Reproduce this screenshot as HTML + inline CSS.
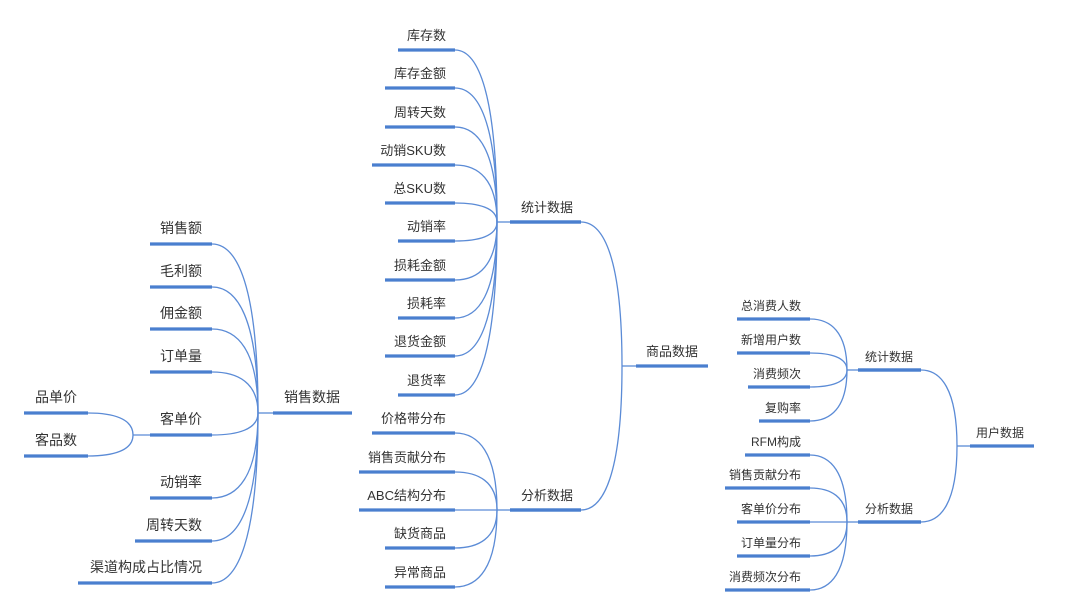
<!DOCTYPE html>
<html><head><meta charset="utf-8"><style>
html,body{margin:0;padding:0;background:#fff;}
#c{position:relative;width:1080px;height:611px;overflow:hidden;font-family:"Liberation Sans","Noto Sans CJK SC",sans-serif;color:#333;}
svg{position:absolute;left:0;top:0;}
.t{position:absolute;white-space:nowrap;text-align:right;line-height:1;}
</style></head><body><div id="c">
<svg id="s" width="1080" height="611"></svg>
<!-- left group -->
<div class="t" style="right:878px;top:221px;font-size:14px">销售额</div>
<div class="t" style="right:878px;top:264px;font-size:14px">毛利额</div>
<div class="t" style="right:878px;top:306px;font-size:14px">佣金额</div>
<div class="t" style="right:878px;top:349px;font-size:14px">订单量</div>
<div class="t" style="right:878px;top:412px;font-size:14px">客单价</div>
<div class="t" style="right:878px;top:475px;font-size:14px">动销率</div>
<div class="t" style="right:878px;top:518px;font-size:14px">周转天数</div>
<div class="t" style="right:878px;top:560px;font-size:14px">渠道构成占比情况</div>
<div class="t" style="right:1003px;top:390px;font-size:14px">品单价</div>
<div class="t" style="right:1003px;top:433px;font-size:14px">客品数</div>
<div class="t" style="right:740px;top:390px;font-size:14px">销售数据</div>
<!-- middle stats -->
<div class="t" style="right:634px;top:29px;font-size:13px">库存数</div>
<div class="t" style="right:634px;top:67px;font-size:13px">库存金额</div>
<div class="t" style="right:634px;top:106px;font-size:13px">周转天数</div>
<div class="t" style="right:634px;top:144px;font-size:13px">动销SKU数</div>
<div class="t" style="right:634px;top:182px;font-size:13px">总SKU数</div>
<div class="t" style="right:634px;top:220px;font-size:13px">动销率</div>
<div class="t" style="right:634px;top:259px;font-size:13px">损耗金额</div>
<div class="t" style="right:634px;top:297px;font-size:13px">损耗率</div>
<div class="t" style="right:634px;top:335px;font-size:13px">退货金额</div>
<div class="t" style="right:634px;top:374px;font-size:13px">退货率</div>
<div class="t" style="right:507px;top:201px;font-size:13px">统计数据</div>
<div class="t" style="right:634px;top:412px;font-size:13px">价格带分布</div>
<div class="t" style="right:634px;top:451px;font-size:13px">销售贡献分布</div>
<div class="t" style="right:634px;top:489px;font-size:13px">ABC结构分布</div>
<div class="t" style="right:634px;top:527px;font-size:13px">缺货商品</div>
<div class="t" style="right:634px;top:566px;font-size:13px">异常商品</div>
<div class="t" style="right:507px;top:489px;font-size:13px">分析数据</div>
<div class="t" style="right:382px;top:345px;font-size:13px">商品数据</div>
<!-- right group -->
<div class="t" style="right:279px;top:300px;font-size:12px">总消费人数</div>
<div class="t" style="right:279px;top:334px;font-size:12px">新增用户数</div>
<div class="t" style="right:279px;top:368px;font-size:12px">消费频次</div>
<div class="t" style="right:279px;top:402px;font-size:12px">复购率</div>
<div class="t" style="right:279px;top:436px;font-size:12px">RFM构成</div>
<div class="t" style="right:279px;top:469px;font-size:12px">销售贡献分布</div>
<div class="t" style="right:279px;top:503px;font-size:12px">客单价分布</div>
<div class="t" style="right:279px;top:537px;font-size:12px">订单量分布</div>
<div class="t" style="right:279px;top:571px;font-size:12px">消费频次分布</div>
<div class="t" style="right:167px;top:351px;font-size:12px">统计数据</div>
<div class="t" style="right:167px;top:503px;font-size:12px">分析数据</div>
<div class="t" style="right:56px;top:427px;font-size:12px">用户数据</div>
<script>
var s=document.getElementById('s'),h='';
var C='#5b8bd6',B='#4a7fcf';
function bar(x1,x2,y){h+='<line x1="'+x1+'" y1="'+y+'" x2="'+x2+'" y2="'+y+'" stroke="'+B+'" stroke-width="3.2"/>';}
function cur(lx,ly,hx,hy){var d=hx-lx;h+='<path d="M'+lx+' '+ly+' C'+(lx+d*0.55)+' '+ly+' '+hx+' '+(ly+(hy-ly)*0.25)+' '+hx+' '+hy+'" fill="none" stroke="'+C+'" stroke-width="1.3"/>';}
function grp(leaves,hx,hy,px1,px2){leaves.forEach(function(l){bar(l[0],l[1],l[2]);cur(l[1],l[2],hx,hy);});h+='<line x1="'+hx+'" y1="'+hy+'" x2="'+px1+'" y2="'+hy+'" stroke="'+C+'" stroke-width="1.3"/>';bar(px1,px2,hy);}
// left
grp([[150,212,244],[150,212,287],[150,212,329],[150,212,372],[150,212,435],[150,212,498],[135,212,541],[78,212,583]],258,413,273,352);
grp([[24,88,413],[24,88,456]],133,435,150,150);
// middle stats
var ys=[50,88,127,165,203,241,280,318,356,395],xs=[398,385,385,372,385,398,385,398,385,398];
grp(ys.map(function(y,i){return[xs[i],455,y]}),497,222,510,581);
grp([[372,455,433],[359,455,472],[359,455,510],[385,455,548],[385,455,587]],497,510,510,581);
grp([[510,581,222],[510,581,510]],622,366,636,708);
// right
grp([[737,810,319],[737,810,353],[748,810,387],[759,810,421]],847,370,858,921);
grp([[745,810,455],[725,810,488],[737,810,522],[737,810,556],[725,810,590]],847,522,858,921);
grp([[858,921,370],[858,921,522]],957,446,970,1034);
s.innerHTML=h;
</script>
</div></body></html>
